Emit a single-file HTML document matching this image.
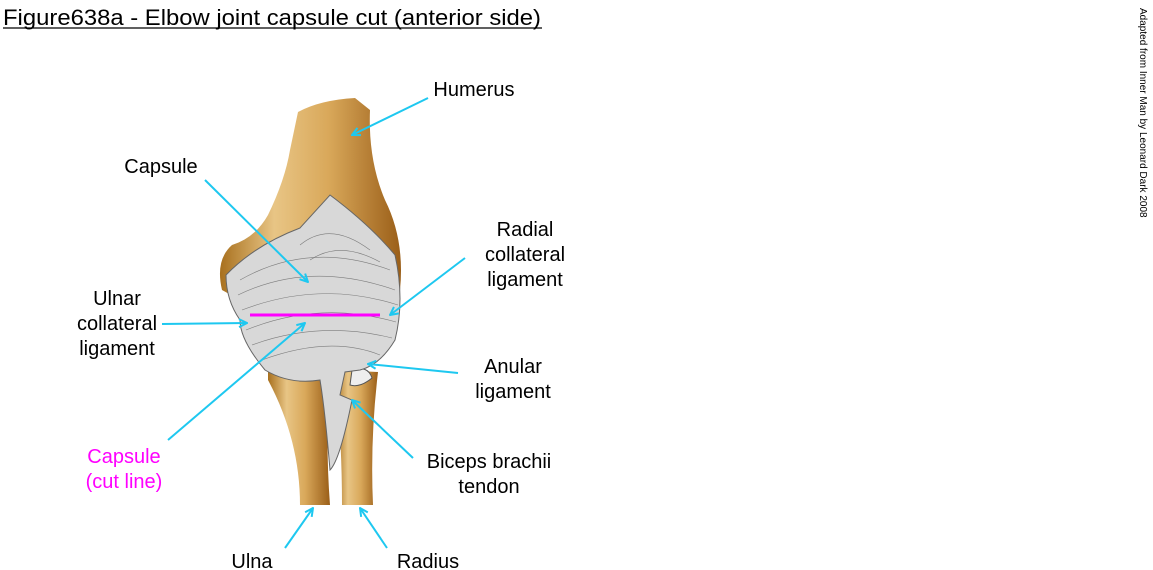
<!DOCTYPE html>
<html><head><style>
html,body{margin:0;padding:0;background:#fff;}
svg{display:block;}
text{font-family:"Liberation Sans",Arial,sans-serif;}
</style></head><body>
<svg width="1153" height="570" viewBox="0 0 1153 570" xmlns="http://www.w3.org/2000/svg">
<defs>
<linearGradient id="bone" x1="0" x2="1" y1="0" y2="0">
<stop offset="0" stop-color="#a8701e"/><stop offset="0.3" stop-color="#e8c585"/><stop offset="0.6" stop-color="#d9a85a"/><stop offset="1" stop-color="#9a5e18"/>
</linearGradient>
<marker id="ah" markerWidth="10" markerHeight="10" refX="9" refY="5" orient="auto" markerUnits="userSpaceOnUse">
<path d="M1,1 L9,5 L1,9" fill="none" stroke="#1ec8f0" stroke-width="2"/>
</marker>
</defs>
<text x="3" y="25" font-size="22" fill="#000" textLength="538" lengthAdjust="spacingAndGlyphs">Figure638a - Elbow joint capsule cut (anterior side)</text>
<line x1="3" y1="28" x2="542" y2="28" stroke="#000" stroke-width="1.2"/>
<text transform="translate(1140,8) rotate(90)" font-size="10" fill="#000">Adapted from Inner Man by Leonard Dark 2008</text>

<!-- bones -->
<path d="M298,112 Q320,100 355,98 L370,110 Q368,160 385,200 Q405,240 400,290 L240,300 L222,290 Q215,260 232,245 Q255,238 268,215 Q285,180 290,150 Z" fill="url(#bone)"/>
<path d="M268,370 L330,370 Q325,440 330,505 L300,505 Q300,440 268,380 Z" fill="url(#bone)"/>
<path d="M335,370 L378,372 Q370,440 373,505 L342,505 Q342,440 335,370 Z" fill="url(#bone)"/>
<path d="M352,370 Q368,365 372,378 Q360,388 350,385 Z" fill="#eee" stroke="#555"/>
<!-- capsule -->
<path d="M330,195 Q370,225 395,255 Q405,300 395,340 Q380,365 360,370 L345,372 L340,395 L352,400 Q340,460 330,470 Q325,410 320,380 Q290,385 265,370 Q240,340 240,320 Q226,300 226,275 Q255,245 300,228 Z" fill="#d8d8d8" stroke="#666" stroke-width="1"/>
<g stroke="#555" stroke-width="0.6" fill="none" opacity="0.7">
<path d="M240,280 Q310,240 390,270"/><path d="M238,295 Q310,260 395,290"/><path d="M242,310 Q320,280 398,305"/>
<path d="M246,330 Q320,300 396,322"/><path d="M252,345 Q320,320 392,338"/><path d="M262,360 Q330,335 380,355"/>
<path d="M300,245 Q330,220 370,250"/><path d="M310,260 Q340,240 380,262"/>
</g>
<line x1="250" y1="315" x2="380" y2="315" stroke="#ff00ff" stroke-width="3"/>

<!-- leaders -->
<g stroke="#1ec8f0" stroke-width="2" marker-end="url(#ah)">
<line x1="428" y1="98" x2="352" y2="135"/>
<line x1="205" y1="180" x2="308" y2="282"/>
<line x1="465" y1="258" x2="390" y2="315"/>
<line x1="162" y1="324" x2="247" y2="323"/>
<line x1="458" y1="373" x2="368" y2="364"/>
<line x1="413" y1="458" x2="352" y2="400"/>
<line x1="168" y1="440" x2="305" y2="323"/>
<line x1="285" y1="548" x2="313" y2="508"/>
<line x1="387" y1="548" x2="360" y2="508"/>
</g>

<g font-size="20" fill="#000" text-anchor="middle">
<text x="474" y="96">Humerus</text>
<text x="161" y="173">Capsule</text>
<text x="525" y="236">Radial</text><text x="525" y="261">collateral</text><text x="525" y="286">ligament</text>
<text x="117" y="305">Ulnar</text><text x="117" y="330">collateral</text><text x="117" y="355">ligament</text>
<text x="513" y="373">Anular</text><text x="513" y="398">ligament</text>
<text x="489" y="468">Biceps brachii</text><text x="489" y="493">tendon</text>
<text x="124" y="463" fill="#ff00ff">Capsule</text><text x="124" y="488" fill="#ff00ff">(cut line)</text>
<text x="252" y="568">Ulna</text>
<text x="428" y="568">Radius</text>
</g>
</svg>
</body></html>
